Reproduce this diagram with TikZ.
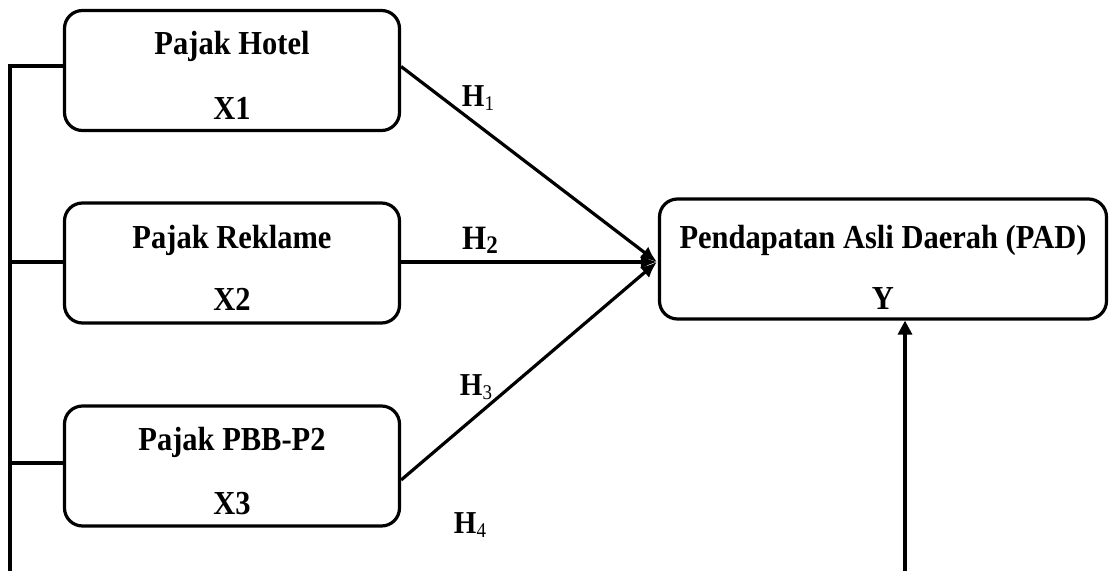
\documentclass[tikz,border=0pt]{standalone}
\usepackage{fontspec}
\setmainfont{Liberation Serif}
\usetikzlibrary{arrows.meta,calc}
\newcommand{\stx}[1]{\scalebox{1}[1.1]{#1}}
\newcommand{\hlab}[2]{\stx{\fontsize{#1}{#1}\selectfont\bfseries H}\raisebox{-4pt}{\stx{#2}}}
\tikzset{
  box/.style={draw, line width=3.2pt, rounded corners=18pt, minimum width=335pt, minimum height=120pt, inner sep=0pt},
  ybox/.style={box, minimum width=447pt},
  txt/.style={inner sep=0pt, font=\fontsize{30.5}{30.5}\selectfont\bfseries},
  hl/.style={inner sep=0pt},
  conn/.style={line width=3.2pt},
  arr/.style={line width=3.2pt, -{Latex[length=16pt,width=14pt]}},
  varr/.style={line width=3.2pt, -{Triangle[length=14pt,width=14pt]}}
}
\begin{document}
\begin{tikzpicture}[x=1pt,y=-1pt]
\useasboundingbox (0,0) rectangle (1109,571);
\node[box] (A) at (232,70.5) {};
\node[box] (B) at (232,263) {};
\node[box] (C) at (232,466) {};
\node[ybox] (Y) at (883,259) {};
\node[txt] (At) at ($(A.north)+(0,38)$) {\stx{Pajak Hotel}};
\node[txt] (Ax) at ($(A.south)+(0,-24)$) {\stx{X1}};
\node[txt] (Bt) at ($(B.north)+(0,39)$) {\stx{Pajak Reklame}};
\node[txt] (Bx) at ($(B.south)+(0,-25)$) {\stx{X2}};
\node[txt] (Ct) at ($(C.north)+(0,38)$) {\stx{Pajak PBB-P2}};
\node[txt] (Cx) at ($(C.south)+(0,-24)$) {\stx{X3}};
\node[txt] (Yt) at ($(Y.north)+(0,43)$) {\stx{Pendapatan Asli Daerah (PAD)}};
\node[txt] (Yx) at ($(Y.south)+(0,-22)$) {\stx{Y}};
% left bus
\coordinate (Lb) at (10,571);
\coordinate (L1) at (10,66);
\coordinate (L2) at (10,262);
\coordinate (L3) at (10,463);
\draw[conn] (Lb) -- (L1) -- (L1 -| A.west);
\draw[conn] (L2) -- (L2 -| B.west);
\draw[conn] (L3) -- (L3 -| C.west);
% arrows to Y
\coordinate (T) at ($(Y.west)+(-1,3)$);
\coordinate (S1) at ($(A.east)+(0,-4)$);
\coordinate (S2) at (B.east |- T);
\coordinate (S3) at ($(C.east)+(0,14)$);
\draw[arr] (S1) -- (T);
\draw[arr] (S2) -- (T);
\draw[arr] (S3) -- (T);
% vertical arrow
\coordinate (Vb) at (905,571);
\draw[varr] (Vb) -- (Vb |- Y.south);
% labels
\node[hl] (H1) at (478,98) {\hlab{29}{\fontsize{19}{19}\selectfont 1}};
\node[hl] (H2) at (480,240) {\hlab{31}{\fontsize{23}{23}\selectfont\bfseries 2}};
\node[hl] (H3) at (476,387) {\hlab{29}{\fontsize{19}{19}\selectfont 3}};
\node[hl] (H4) at (470,525) {\hlab{29}{\fontsize{19}{19}\selectfont 4}};
\end{tikzpicture}
\end{document}
